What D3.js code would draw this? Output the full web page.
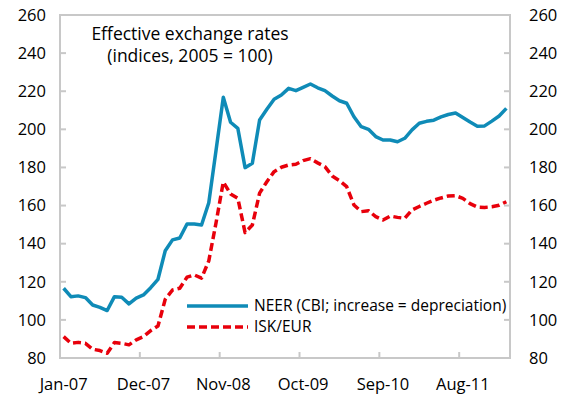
<!DOCTYPE html>
<html>
<head>
<meta charset="utf-8">
<script src="https://cdn.jsdelivr.net/npm/d3@7"></script>
<style>
  body { margin: 0; background: #fff; }
  svg text { font-family: "Open Sans", "Noto Sans", sans-serif; fill: #000; }
</style>
</head>
<body>
<div id="chart"></div>
<script>
// months, Jan-07 .. Feb-12
const months = [
  'Jan-07','Feb-07','Mar-07','Apr-07','May-07','Jun-07','Jul-07','Aug-07','Sep-07','Oct-07','Nov-07','Dec-07',
  'Jan-08','Feb-08','Mar-08','Apr-08','May-08','Jun-08','Jul-08','Aug-08','Sep-08','Oct-08','Nov-08','Dec-08',
  'Jan-09','Feb-09','Mar-09','Apr-09','May-09','Jun-09','Jul-09','Aug-09','Sep-09','Oct-09','Nov-09','Dec-09',
  'Jan-10','Feb-10','Mar-10','Apr-10','May-10','Jun-10','Jul-10','Aug-10','Sep-10','Oct-10','Nov-10','Dec-10',
  'Jan-11','Feb-11','Mar-11','Apr-11','May-11','Jun-11','Jul-11','Aug-11','Sep-11','Oct-11','Nov-11','Dec-11',
  'Jan-12','Feb-12'
];

const neer = [
  116.6, 112.2, 112.6, 111.7, 107.8, 106.6, 104.9, 112.2, 111.9, 108.4, 111.4, 113.1,
  116.9, 121.3, 136.3, 142.0, 143.0, 150.3, 150.3, 149.8, 161.5, 189.0, 216.8, 203.7,
  200.5, 179.9, 182.2, 204.9, 210.5, 215.8, 218.0, 221.5, 220.3, 222.0, 223.8, 221.8,
  220.3, 217.5, 215.0, 213.7, 206.6, 201.4, 200.0, 196.2, 194.4, 194.4, 193.5, 195.3,
  199.7, 203.2, 204.2, 204.8, 206.5, 207.8, 208.6, 206.2, 203.8, 201.6, 201.8, 204.3,
  207.0, 211.0
];

const iskEur = [
  91.2, 87.7, 88.2, 87.7, 84.6, 83.9, 82.5, 88.1, 87.7, 86.9, 89.5, 91.2,
  94.4, 96.8, 110.8, 115.7, 116.6, 122.4, 123.6, 121.9, 131.0, 151.0, 172.4, 166.1,
  163.8, 145.8, 149.8, 166.5, 172.5, 177.8, 180.1, 181.3, 181.7, 183.6, 184.6, 182.4,
  180.4, 175.5, 173.1, 169.9, 160.3, 156.8, 157.3, 154.2, 152.4, 154.5, 153.8, 153.3,
  157.7, 159.5, 161.2, 162.8, 164.0, 165.0, 165.2, 163.8, 161.0, 159.2, 159.0, 159.4,
  160.2, 162.0
];

const yTicks = [80, 100, 120, 140, 160, 180, 200, 220, 240, 260];
const xLabels = ['Jan-07', 'Dec-07', 'Nov-08', 'Oct-09', 'Sep-10', 'Aug-11'];

const series = [
  { name: 'NEER (CBI; increase = depreciation)', values: neer, color: '#0f8bb7', dash: null },
  { name: 'ISK/EUR', values: iskEur, color: '#e8000b', dash: '8,4' }
];

// layout
const outerWidth = 567, outerHeight = 400;
const margin = { top: 15, right: 57, bottom: 42, left: 60 };
const width = outerWidth - margin.left - margin.right;
const height = outerHeight - margin.top - margin.bottom;

const svg = d3.select('#chart').append('svg')
    .attr('width', outerWidth)
    .attr('height', outerHeight)
  .append('g')
    .attr('transform', `translate(${margin.left},${margin.top})`);

const x = d3.scaleBand().domain(months).range([0, width]).padding(0);
const y = d3.scaleLinear().domain([80, 260]).range([height, 0]);

const frameColor = '#c8c8c8';

// frame
svg.append('rect')
  .attr('width', width).attr('height', height)
  .attr('fill', 'none')
  .attr('stroke', frameColor)
  .attr('stroke-width', 2);

// left / right axes, labels only (ticks drawn inward below)
const yLeft = svg.append('g')
  .call(d3.axisLeft(y).tickValues(yTicks).tickSize(0).tickPadding(14));
yLeft.select('.domain').remove();
yLeft.selectAll('text').style('font-size', '16.5px');

const yRight = svg.append('g')
  .attr('transform', `translate(${width},0)`)
  .call(d3.axisRight(y).tickValues(yTicks).tickSize(0).tickPadding(19));
yRight.select('.domain').remove();
yRight.selectAll('text').style('font-size', '16.5px');

svg.append('g').selectAll('line')
  .data(yTicks.slice(1, -1))
  .join('line')
  .attr('x1', 0).attr('x2', 6)
  .attr('y1', d => y(d)).attr('y2', d => y(d))
  .attr('stroke', frameColor).attr('stroke-width', 2);

svg.append('g').selectAll('line')
  .data(yTicks.slice(1, -1))
  .join('line')
  .attr('x1', width - 6).attr('x2', width)
  .attr('y1', d => y(d)).attr('y2', d => y(d))
  .attr('stroke', frameColor).attr('stroke-width', 2);

// bottom axis: labels centred on the month, ticks at the month boundary
const xAxisG = svg.append('g')
  .attr('transform', `translate(0,${height})`)
  .call(d3.axisBottom(x).tickValues(xLabels).tickSize(0).tickPadding(20));
xAxisG.select('.domain').remove();
xAxisG.selectAll('text').style('font-size', '16.5px');

svg.append('g').selectAll('line')
  .data(xLabels.slice(1))
  .join('line')
  .attr('x1', d => x(d)).attr('x2', d => x(d))
  .attr('y1', height).attr('y2', height - 6)
  .attr('stroke', frameColor).attr('stroke-width', 2);

// lines
const line = d3.line()
  .x((d, i) => x(months[i]) + x.bandwidth() / 2)
  .y(d => y(d));

svg.selectAll('.series')
  .data(series)
  .join('path')
  .attr('class', 'series')
  .attr('fill', 'none')
  .attr('stroke', d => d.color)
  .attr('stroke-width', 3.5)
  .attr('stroke-linejoin', 'round')
  .attr('stroke-dasharray', d => d.dash)
  .attr('d', d => line(d.values));

// title
const title = svg.append('text')
  .attr('x', 130)
  .attr('y', 25)
  .attr('text-anchor', 'middle')
  .style('font-size', '17.5px');
title.append('tspan').attr('x', 130).text('Effective exchange rates');
title.append('tspan').attr('x', 130).attr('dy', 22).text('(indices, 2005 = 100)');

// legend
const legend = svg.append('g').attr('transform', 'translate(127,291)');
const item = legend.selectAll('g')
  .data(series)
  .join('g')
  .attr('transform', (d, i) => `translate(0,${i * 21})`);
item.append('line')
  .attr('x1', 0).attr('x2', 61)
  .attr('stroke', d => d.color)
  .attr('stroke-width', 3.5)
  .attr('stroke-dasharray', d => d.dash);
item.append('text')
  .attr('x', 67)
  .attr('dy', '0.35em')
  .style('font-size', '15.5px')
  .text(d => d.name);
</script>
</body>
</html>
